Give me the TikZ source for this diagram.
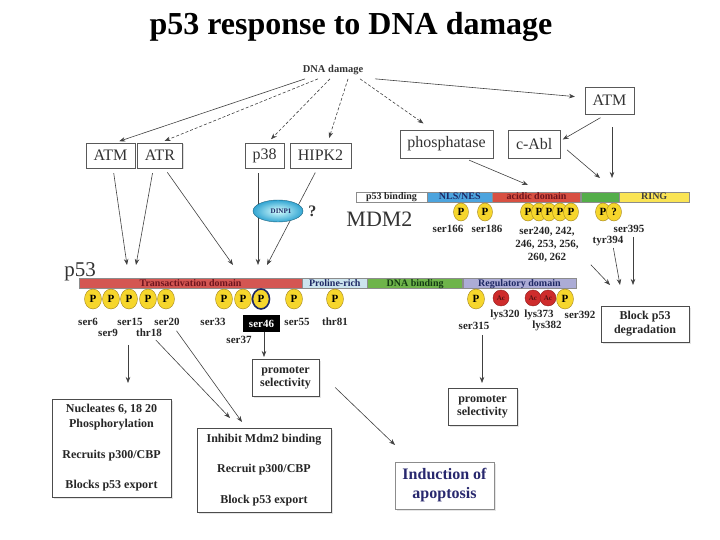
\documentclass[tikz,border=0pt]{standalone}
\usepackage{fontspec}
\setmainfont{Liberation Serif}
\usetikzlibrary{positioning, shapes.geometric, arrows.meta, shadows}
\definecolor{tadred}{RGB}{212,86,82}
\definecolor{tadtext}{RGB}{110,20,30}
\definecolor{problue}{RGB}{204,228,238}
\definecolor{dbgreen}{RGB}{110,180,74}
\definecolor{reglav}{RGB}{172,172,214}
\definecolor{navytext}{RGB}{30,40,100}
\definecolor{greentext}{RGB}{20,60,20}
\definecolor{nlsblue}{RGB}{76,164,222}
\definecolor{acidred}{RGB}{216,80,66}
\definecolor{mdgreen}{RGB}{84,174,74}
\definecolor{ringyel}{RGB}{250,228,84}
\definecolor{pyel}{RGB}{246,214,44}
\definecolor{pedge}{RGB}{160,130,30}
\definecolor{acred}{RGB}{206,44,44}
\definecolor{dinpblue}{RGB}{50,165,210}
\definecolor{apoblue}{RGB}{40,40,110}
\tikzset{
    kin/.style={draw=black!65, fill=white, text=black!80, inner xsep=7.5pt, minimum height=25pt, font=\fontsize{16}{18}\selectfont, drop shadow={shadow xshift=1.2pt, shadow yshift=-1.2pt, fill=black!25}},
    outbox/.style={draw=black!70, fill=white, text=black!85, align=center, inner sep=0pt, font=\fontsize{12}{15}\selectfont\bfseries, drop shadow={shadow xshift=1.5pt, shadow yshift=-1.5pt, fill=black!20}},
    dom/.style={draw=black!45, line width=0.3pt, minimum height=10pt, inner sep=0pt, text height=7pt, text depth=1pt, font=\fontsize{10}{10}\selectfont\bfseries},
    phos/.style={ellipse, draw=pedge, fill=pyel, minimum width=17pt, minimum height=20pt, inner sep=0pt, font=\fontsize{11}{11}\selectfont\bfseries},
    mphos/.style={phos, minimum width=15pt, minimum height=18pt},
    acet/.style={circle, draw=acred!70!black, fill=acred, minimum size=16pt, inner sep=0pt, text=acred!40!black, font=\fontsize{7}{7}\selectfont\bfseries},
    site/.style={font=\fontsize{11}{13}\selectfont\bfseries, text=black!85, inner sep=0pt, align=center},
    arr/.style={draw=black!75, line width=0.6pt, -{Stealth[length=6pt,width=4.5pt]}},
    darr/.style={arr, dash pattern=on 3pt off 2pt},
}
\begin{document}
\begin{tikzpicture}[x=1pt, y=-1pt]
    \useasboundingbox (0,0) rectangle (720,540);
    \node[font=\fontsize{32}{34}\selectfont\bfseries, anchor=base] (title) at (351,35) {p53 response to DNA damage};
    \node[font=\fontsize{10.5}{12}\selectfont\bfseries, text=black!80, anchor=base] (dna) at (333,73) {DNA damage};
    \node[kin] (atml) at (110.5,155.5) {ATM};
    \node[kin, right=2pt of atml] (atr) {ATR};
    \node[kin] (p38) at (264.5,155.5) {p38};
    \node[kin, right=6pt of p38] (hipk) {HIPK2};
    \node[kin, minimum height=28pt] (phosph) at (446.5,144) {phosphatase};
    \node[kin, minimum height=28pt, right=15pt of phosph] (cabl) {c-Abl};
    \node[kin, minimum height=27pt] (atmr) at (609.5,100.5) {ATM};
    \draw[arr, shorten >=5pt] ([xshift=-28pt]dna.south) -- ([xshift=4pt]atml.north);
    \draw[darr, shorten >=5pt] ([xshift=-15pt]dna.south) -- (atr.north);
    \draw[darr, shorten >=5pt] ([xshift=-3pt]dna.south) -- ([xshift=3pt]p38.north);
    \draw[darr, shorten >=5pt] ([xshift=15pt]dna.south) -- ([xshift=7pt]hipk.north);
    \draw[darr, shorten >=11pt] ([xshift=27pt]dna.south) -- ([xshift=-14pt]phosph.north);
    \draw[arr, shorten >=10pt] ([xshift=42pt]dna.south) -- ([yshift=3pt]atmr.west);
    \node[dom, fill=white, minimum width=71pt, text=black!85] (pbind) at (391.5,197) {p53 binding};
    \node[dom, fill=nlsblue, minimum width=65pt, text=navytext, right=0pt of pbind] (nls) {NLS/NES};
    \node[dom, fill=acidred, minimum width=88pt, text=tadtext, right=0pt of nls] (acid) {acidic domain};
    \node[dom, fill=mdgreen, minimum width=38pt, right=0pt of acid] (zinc) {};
    \node[dom, fill=ringyel, minimum width=70pt, text=black!75, right=0pt of zinc] (ring) {RING};
    \coordinate (macid) at (528,185);
    \coordinate (mgreen) at (600,178);
    \coordinate (mring) at (612,178);
    \draw[arr, shorten <=5pt] ([xshift=18pt]phosph.south) -- (macid);
    \draw[arr, shorten <=7pt, shorten >=3pt] ([xshift=-3pt]atmr.south) -- ([yshift=3pt]cabl.east);
    \draw[arr, shorten <=13pt] ([xshift=2.5pt]atmr.south) -- (mring);
    \draw[arr, shorten <=9pt] (cabl.east) -- (mgreen);
    \node[font=\fontsize{22}{24}\selectfont, text=black!80] (mdm2) at (379.5,219.5) {MDM2};
    \foreach \x/\n in {461/s166, 485/s186, 528/s240, 539/s242, 549/s246, 560/s253, 571/s256, 603/t394}
        \node[mphos] (m\n) at (\x,212) {P};
    \node[mphos] (ms395) at (614,212) {?};
    \node[site] (ls166) at (448,229) {ser166};
    \node[site] (ls186) at (487,229) {ser186};
    \node[site] (lacid) at (547,245) {ser240, 242,\\246, 253, 256,\\260, 262};
    \node[site] (lt394) at (608,241) {tyr394};
    \node[site] (ls395) at (629,229) {ser395};
    \node[font=\fontsize{21}{22}\selectfont, text=black!80, anchor=base] (p53) at (80,276) {p53};
    \node[dom, fill=tadred, minimum width=223pt, text=tadtext] (tad) at (190.5,283) {Transactivation domain};
    \node[dom, fill=problue, minimum width=65pt, text=navytext, right=0pt of tad] (pro) {Proline-rich};
    \node[dom, fill=dbgreen, minimum width=95pt, text=greentext, right=0pt of pro] (dbd) {DNA binding};
    \node[dom, fill=reglav, minimum width=113pt, text=navytext, right=0pt of dbd] (reg) {Regulatory domain};
    \foreach \x/\n in {501/k320, 533/k373, 548/k382}
        \node[acet] (a\n) at (\x,298) {Ac};
    \foreach \x/\n in {93/s6, 111/s9, 129/s15, 148/t18, 166/s20, 224/s33, 243/s37, 294/s55, 335/t81, 476/s315, 565/s392}
        \node[phos] (p\n) at (\x,299) {P};
    \node[phos, draw=navytext, line width=1.6pt] (ps46) at (261,299) {P};
    \foreach \x/\y/\n/\t in {88/322/s6/ser6, 108/333/s9/ser9, 130/322/s15/ser15, 149/333/t18/thr18, 167/322/s20/ser20, 213/322/s33/ser33, 239/340/s37/ser37, 297/322/s55/ser55, 335/322/t81/thr81, 505/315/k320/lys320, 539/315/k373/lys373, 580/315/s392/ser392, 474/326/s315/ser315, 547/326/k382/lys382}
        \node[site] (l\n) at (\x,\y) {\t};
    \node[site, fill=black, text=white, minimum width=37pt, minimum height=17pt] (ls46) at (261.5,323.5) {ser46};
    \coordinate (t1) at (127,265);
    \coordinate (t2) at (136,265);
    \coordinate (t3) at (233,265);
    \coordinate (t4) at (258,265);
    \coordinate (t5) at (267,265);
    \draw[arr, shorten <=5pt] ([xshift=2.5pt]atml.south) -- (t1);
    \draw[arr, shorten <=5pt] ([xshift=-6.5pt]atr.south) -- (t2);
    \draw[arr, shorten <=5pt] ([xshift=4.5pt]atr.south) -- (t3);
    \draw[arr, shorten <=5pt] ([xshift=-6.5pt]p38.south) -- (t4);
    \draw[arr, shorten <=5pt] ([xshift=-3pt]hipk.south) -- (t5);
    \node[ellipse, minimum width=50pt, minimum height=22pt, inner sep=0pt, draw=dinpblue!60!black, inner color=cyan!15, outer color=dinpblue, font=\fontsize{7}{7}\selectfont\bfseries, text=navytext] (dinp) at (278,211) {\hspace*{6pt}DINP1};
    \node[font=\fontsize{16}{16}\selectfont\bfseries, text=black!80, inner sep=0pt, right=5pt of dinp] (q) {?};
    \node[outbox, minimum width=88pt, minimum height=36pt, font=\fontsize{12}{14}\selectfont\bfseries] (block) at (645,324) {Block p53\\degradation};
    \coordinate (d1) at (610,285);
    \coordinate (d2) at (620,285);
    \coordinate (d3) at (633,285);
    \draw[arr] ([xshift=12pt,yshift=-2pt]lacid.south east) -- (d1);
    \draw[arr, shorten <=2pt] ([xshift=5pt]lt394.south) -- (d2);
    \draw[arr, shorten <=4pt] (ls395.south -| d3) -- (d3);
    \node[outbox, minimum width=67pt, minimum height=37pt, font=\fontsize{12}{13}\selectfont\bfseries] (pleft) at (285.5,377.5) {promoter\\selectivity};
    \node[outbox, minimum width=69pt, minimum height=37pt, font=\fontsize{12}{13}\selectfont\bfseries] (pright) at (482.5,406.5) {promoter\\selectivity};
    \node[outbox, minimum width=119pt, minimum height=98pt] (nuc) at (111.5,448) {Nucleates 6, 18 20\\Phosphorylation\\[16pt]Recruits p300/CBP\\[15pt]Blocks p53 export};
    \node[outbox, minimum width=134pt, minimum height=84pt] (inh) at (264,470) {Inhibit Mdm2 binding\\[15.5pt]Recruit p300/CBP\\[15.5pt]Block p53 export};
    \node[outbox, draw=black!45, minimum width=99pt, minimum height=47pt, text=apoblue, font=\fontsize{16}{19}\selectfont\bfseries] (apo) at (444.5,485.5) {Induction of\\apoptosis};
    \coordinate (b1) at (128,383);
    \coordinate (b2) at (230,418);
    \coordinate (b3) at (242,422);
    \coordinate (b4) at (264,357);
    \coordinate (b5) at (482,383);
    \coordinate (b6) at (395,445);
    \draw[arr, shorten <=19pt] (ls15.south -| b1) -- (b1);
    \draw[arr, shorten <=4pt] ([xshift=4pt]lt18.south) -- (b2);
    \draw[arr, shorten <=6pt] ([xshift=6pt]ls20.south) -- (b3);
    \draw[arr] (ls46.south -| b4) -- (b4);
    \draw[arr, shorten <=5pt] (ls315.south -| b5) -- (b5);
    \draw[arr] ([xshift=16pt,yshift=-10pt]pleft.east) -- (b6);
\end{tikzpicture}
\end{document}
